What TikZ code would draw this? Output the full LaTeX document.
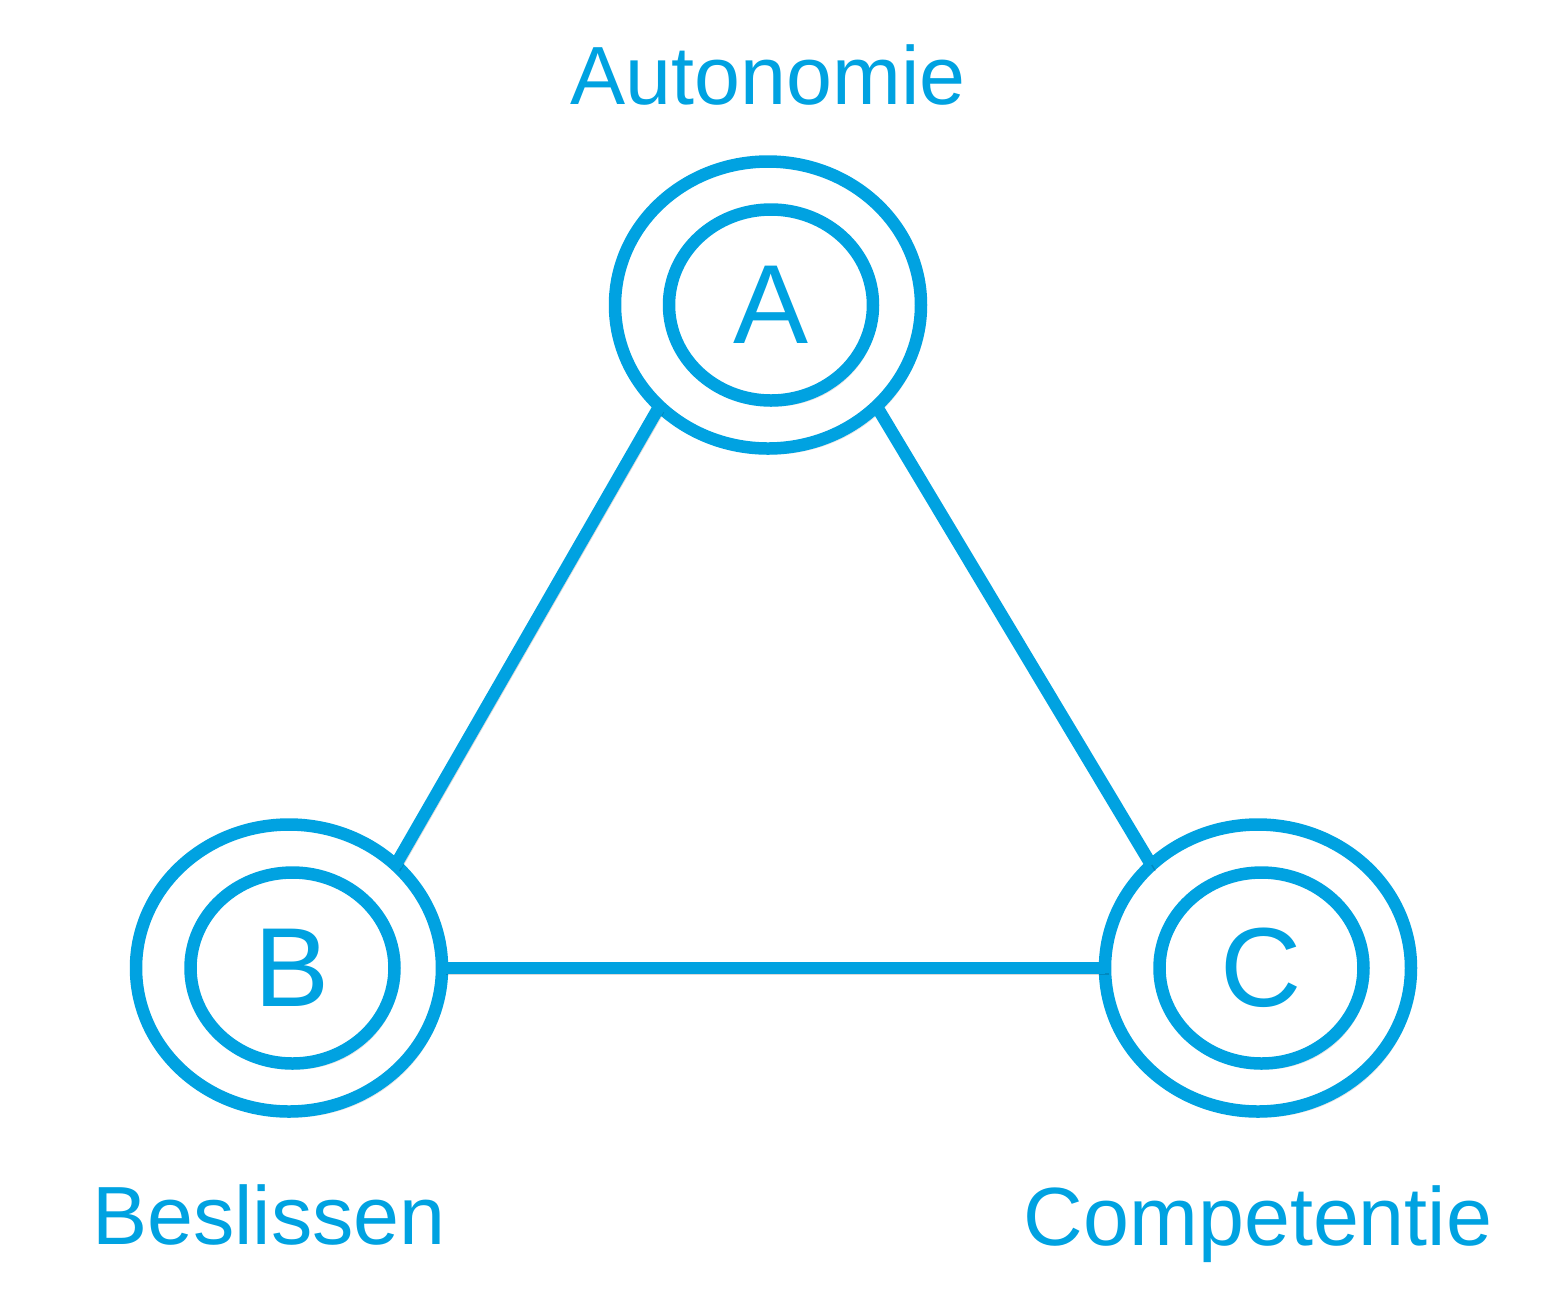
\documentclass[tikz,border=0pt]{standalone}
\usepackage{fontspec}
\setmainfont{Liberation Sans}
\usetikzlibrary{positioning,shapes.geometric,shadows}
\definecolor{ringblue}{HTML}{00A2E1}
\tikzset{
  ring/.style={ellipse,draw=ringblue,line width=1.25mm,fill=white,
    inner sep=0pt,outer sep=0pt,
    drop shadow={opacity=0.2,shadow xshift=0.4mm,shadow yshift=-0.6mm}},
  outerring/.style={ring,minimum width=30.6mm,minimum height=28.7mm},
  innerring/.style={ring,minimum width=20.4mm,minimum height=19.1mm,
    text=ringblue,font=\fontsize{32}{36}\selectfont},
  factor/.style={text=ringblue,inner sep=0pt,font=\fontsize{23.5}{28}\selectfont},
  link/.style={draw=ringblue,line width=1.25mm,
    preaction={draw=black,opacity=0.15,
      transform canvas={shift={(0.4mm,-0.6mm)}}}}
}
\begin{document}
\begin{tikzpicture}[x=0.1mm,y=-0.1mm]
  \useasboundingbox (0,0) rectangle (1542,1314);

  % outer and inner rings
  \node[outerring] (aOut) at (768,305) {};
  \node[outerring] (bOut) at (289,968) {};
  \node[outerring] (cOut) at (1258,968) {};
  \node[innerring,xshift=0.3mm] (aIn) at (aOut) {A};
  \node[innerring,xshift=0.35mm] (bIn) at (bOut) {B};
  \node[innerring,xshift=0.35mm] (cIn) at (cOut) {C};

  % names
  \node[factor,above=5.6mm of aOut] (aName) {Autonomie};
  \node[factor,below=7.2mm of bOut,xshift=-2mm] (bName) {Beslissen};
  \node[factor,below=7.3mm of cOut] (cName) {Competentie};

  \draw[link] (aOut.223) -- (bOut.44);
  \draw[link] (aOut.317) -- (cOut.136);
  \draw[link] (bOut.east) -- (cOut.west);
\end{tikzpicture}
\end{document}
